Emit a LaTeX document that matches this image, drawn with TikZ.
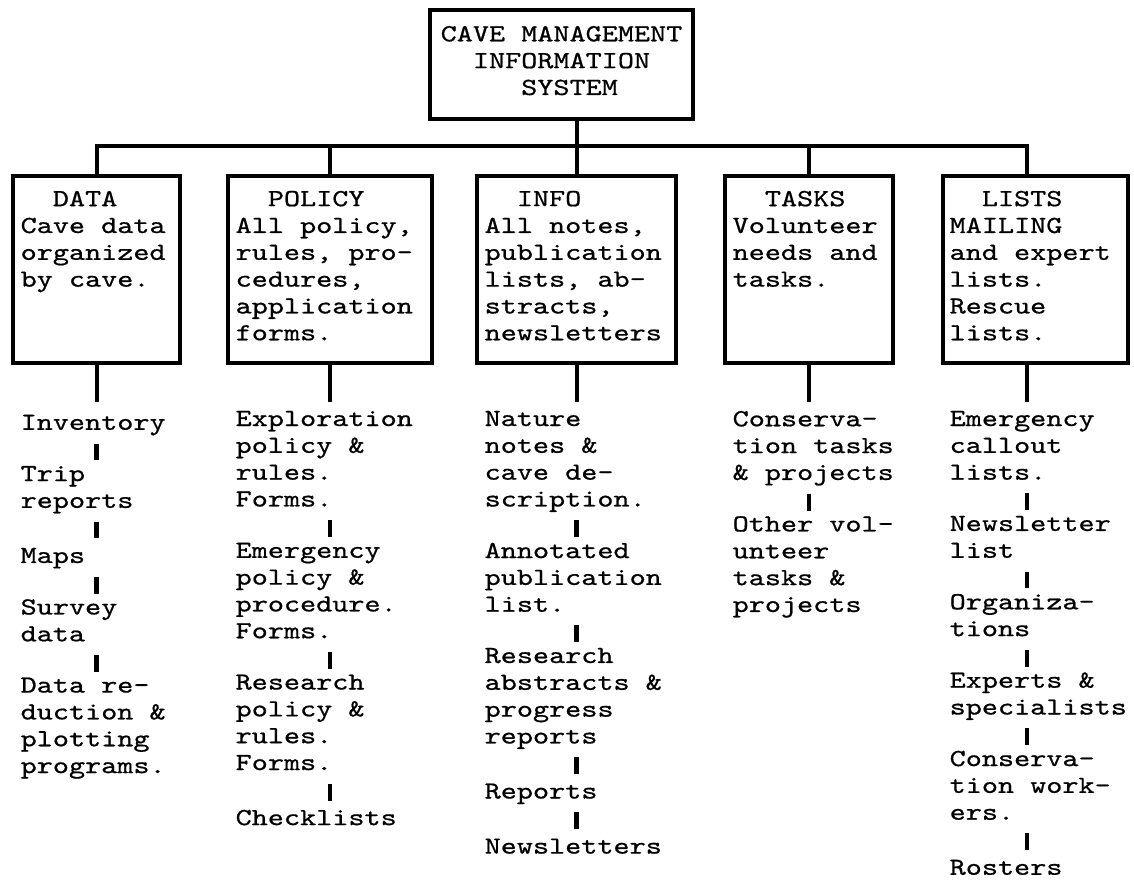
\documentclass[tikz,border=0pt]{standalone}
\usepackage{fontspec}
\usetikzlibrary{positioning}
\newfontfamily\typefont{lmmono10-regular.otf}[FakeStretch=1.25,FakeBold=0.7]
\newcommand\ind[1]{\hspace*{#1\fontcharwd\font`M}}
\tikzset{
	typed/.style={font=\typefont\fontsize{6.98pt}{7.63pt}\selectfont,inner sep=0pt,align=left,
		execute at begin node=\strut,execute at end node=\strut},
	entry/.style={typed,anchor=north west},
	under/.style={below=#1,anchor=north west},
	tbox/.style={draw,line width=.04cm,inner sep=0pt,minimum height=1.87cm},
	link/.style={line width=.04cm},
	dashbar/.style={line width=.045cm,shorten <=.05cm,shorten >=.05cm},
}
\begin{document}
\begin{tikzpicture}[x=.01cm,y=-.01cm,node distance=.268cm]
	\useasboundingbox (0,0) rectangle (1134,893);
	% top box and the five branch boxes
	\node[tbox,typed,minimum width=2.63cm,minimum height=1.09cm] (top) at (561.5,64.5)
		{CAVE MANAGEMENT\\\ind2INFORMATION\\\ind5SYSTEM};
	\node[tbox,minimum width=1.67cm] (data) at (96.5,269.5) {};
	\node[tbox,minimum width=2.04cm] (policy) at (330,269.5) {};
	\node[tbox,minimum width=1.99cm] (info) at (576.5,269.5) {};
	\node[tbox,minimum width=1.68cm] (tasks) at (809,269.5) {};
	\node[tbox,minimum width=1.85cm] (lists) at (1035.5,269.5) {};
	\coordinate (bus) at (0,146);
	\coordinate (lsp) at (1027,0);
	\draw[link] (top.south -| info.north) -- (info.north);
	\draw[link] (data.north) -- (data.north |- bus) -- (lsp |- bus) -- (lsp |- lists.north);
	\draw[link] (policy.north) -- (policy.north |- bus);
	\draw[link] (tasks.north) -- (tasks.north |- bus);
	% text in the boxes
	\node[entry,under=.162cm of data.north west,xshift=.09cm] (datat)
		{\ind2DATA\\Cave data\\organized\\by cave.};
	\node[entry,under=.162cm of policy.north west,xshift=.09cm] (policyt)
		{\ind2POLICY\\All policy,\\rules, pro-\\cedures,\\application\\forms.};
	\node[entry,under=.162cm of info.north west,xshift=.09cm] (infot)
		{\ind2INFO\\All notes,\\publication\\lists, ab-\\stracts,\\newsletters};
	\node[entry,under=.162cm of tasks.north west,xshift=.09cm] (taskst)
		{\ind2TASKS\\Volunteer\\needs and\\tasks.};
	\node[entry,under=.162cm of lists.north west,xshift=.08cm] (listst)
		{\ind2LISTS\\MAILING\\and expert\\lists.\\Rescue\\lists.};
	% DATA column
	\node[entry,under=.452cm of data.south west,xshift=.09cm] (inv) {Inventory};
	\node[entry,under=of inv.south west] (trip) {Trip\\reports};
	\node[entry,under=of trip.south west] (maps) {Maps};
	\node[entry,under=of maps.south west] (surv) {Survey\\data};
	\node[entry,under=of surv.south west] (red) {Data re-\\duction \&\\plotting\\programs.};
	\draw[link,shorten >=.085cm] (data.south) -- (inv.north -| data.south);
	\foreach \a/\b in {inv/trip,trip/maps,maps/surv,surv/red}
		\draw[dashbar] (\a.south -| data.south) -- (\b.north -| data.south);
	% POLICY column
	\node[entry,under=.452cm of policy.south west,xshift=.09cm] (expl)
		{Exploration\\policy \&\\rules.\\Forms.};
	\node[entry,under=of expl.south west] (emer) {Emergency\\policy \&\\procedure.\\Forms.};
	\node[entry,under=of emer.south west] (resp) {Research\\policy \&\\rules.\\Forms.};
	\node[entry,under=of resp.south west] (chk) {Checklists};
	\draw[link,shorten >=.085cm] (policy.south) -- (expl.north -| policy.south);
	\foreach \a/\b in {expl/emer,emer/resp,resp/chk}
		\draw[dashbar] (\a.south -| policy.south) -- (\b.north -| policy.south);
	% INFO column
	\node[entry,under=.452cm of info.south west,xshift=.09cm] (nat)
		{Nature\\notes \&\\cave de-\\scription.};
	\node[entry,under=of nat.south west] (ann) {Annotated\\publication\\list.};
	\node[entry,under=of ann.south west] (abs) {Research\\abstracts \&\\progress\\reports};
	\node[entry,under=of abs.south west] (rep) {Reports};
	\node[entry,under=of rep.south west] (news) {Newsletters};
	\draw[link,shorten >=.085cm] (info.south) -- (nat.north -| info.south);
	\foreach \a/\b in {nat/ann,ann/abs,abs/rep,rep/news}
		\draw[dashbar] (\a.south -| info.south) -- (\b.north -| info.south);
	% TASKS column
	\node[entry,under=.452cm of tasks.south west,xshift=.09cm] (cons)
		{Conserva-\\tion tasks\\\& projects};
	\node[entry,under=of cons.south west] (oth) {Other vol-\\unteer\\tasks \&\\projects};
	\draw[link,shorten >=.085cm] (tasks.south) -- (cons.north -| tasks.south);
	\draw[dashbar] (cons.south -| tasks.south) -- (oth.north -| tasks.south);
	% LISTS column
	\node[entry,under=.452cm of lists.south west,xshift=.08cm] (call)
		{Emergency\\callout\\lists.};
	\node[entry,under=of call.south west] (nwl) {Newsletter\\list};
	\node[entry,under=of nwl.south west] (org) {Organiza-\\tions};
	\node[entry,under=of org.south west] (expe) {Experts \&\\specialists};
	\node[entry,under=of expe.south west] (work) {Conserva-\\tion work-\\ers.};
	\node[entry,under=of work.south west] (rost) {Rosters};
	\draw[link,shorten >=.085cm] (lsp |- lists.south) -- (lsp |- call.north);
	\foreach \a/\b in {call/nwl,nwl/org,org/expe,expe/work,work/rost}
		\draw[dashbar] (lsp |- \a.south) -- (lsp |- \b.north);
\end{tikzpicture}
\end{document}
